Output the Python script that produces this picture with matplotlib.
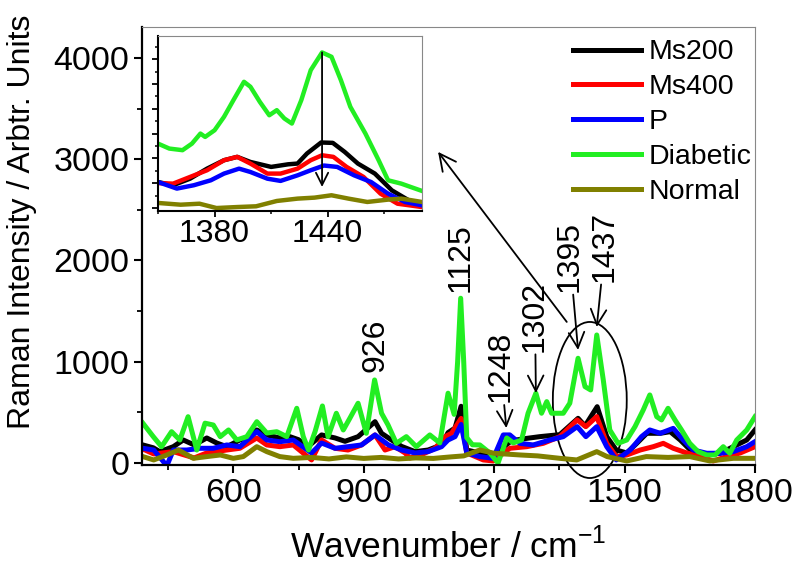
import numpy as np
import matplotlib
matplotlib.use("Agg")
import matplotlib.pyplot as plt
from matplotlib.patches import Ellipse
from matplotlib.ticker import MultipleLocator

plt.rcParams['font.family'] = ['Liberation Sans', 'DejaVu Sans']

# main spectra (wavenumber, intensity)
ms200_x = [392, 416, 431, 462, 485, 510, 539, 562, 585, 615, 630, 654, 677, 707, 730, 750, 772, 803, 834, 857,
           887, 926, 941, 964, 987, 1018, 1048, 1079, 1094, 1110, 1124, 1137, 1167, 1198, 1240, 1275, 1305, 1351,
           1393, 1409, 1437, 1459, 1481, 1505, 1528, 1551, 1582, 1605, 1628, 1658, 1689, 1720, 1750, 1781, 1800]
ms200_y = [178, 150, 112, 161, 227, 178, 247, 197, 161, 227, 247, 326, 277, 247, 260, 230, 161, 277, 247, 214,
           260, 408, 293, 227, 164, 112, 128, 178, 300, 345, 560, 128, 99, 79, 220, 243, 260, 280,
           441, 366, 556, 260, 128, 99, 194, 293, 293, 309, 227, 99, 79, 96, 161, 227, 326]

ms400_x = [392, 417, 462, 510, 539, 585, 615, 654, 677, 707, 738, 780, 803, 834, 864, 895, 926, 949, 972, 995,
           1006, 1033, 1064, 1087, 1102, 1124, 1137, 1175, 1198, 1236, 1275, 1313, 1351, 1391, 1411, 1436, 1459,
           1481, 1505, 1536, 1566, 1589, 1612, 1643, 1674, 1704, 1735, 1766, 1800]
ms400_y = [138, 89, 112, 50, 99, 128, 145, 247, 178, 161, 178, 30, 227, 145, 128, 178, 277, 128, 161, 99,
           49, 82, 145, 260, 293, 440, 99, 30, 20, 145, 161, 194, 260, 425, 359, 458, 194,
           63, 79, 128, 161, 194, 145, 99, 63, 20, 63, 99, 161]

p_x = [392, 417, 438, 447, 462, 493, 524, 554, 585, 615, 654, 677, 707, 738, 780, 803, 834, 864, 895, 926,
       957, 987, 1018, 1048, 1079, 1094, 1110, 1124, 1137, 1167, 1198, 1221, 1236, 1259, 1290, 1328, 1359,
       1391, 1411, 1436, 1459, 1481, 1513, 1539, 1558, 1582, 1612, 1635, 1658, 1689, 1720, 1750, 1781, 1800]
p_y = [145, 128, 20, -30, 128, 128, 145, 145, 178, 161, 310, 227, 210, 227, 99, 197, 145, 161, 178, 277,
       178, 128, 99, 112, 161, 227, 260, 380, 99, 63, 46, 277, 277, 194, 178, 227, 260,
       359, 260, 359, 161, 30, 128, 260, 326, 293, 342, 227, 128, 96, 96, 112, 161, 211]

diab_x = [392, 416, 435, 458, 477, 496, 516, 535, 554, 570, 589, 608, 631, 654, 677, 700, 723, 746, 761, 773,
          788, 805, 818, 837, 853, 868, 887, 906, 925, 941, 956, 975, 998, 1021, 1052, 1075, 1094, 1108, 1116,
          1123, 1130, 1137, 1150, 1167, 1190, 1209, 1229, 1244, 1263, 1278, 1296, 1309, 1321, 1332, 1359, 1374,
          1393, 1409, 1422, 1436, 1451, 1466, 1485, 1505, 1524, 1543, 1558, 1574, 1585, 1600, 1616, 1631, 1650,
          1669, 1689, 1708, 1727, 1742, 1758, 1781, 1800]
diab_y = [393, 260, 161, 309, 227, 457, 128, 393, 375, 260, 326, 227, 260, 408, 296, 309, 260, 540, 260, 128,
          309, 563, 260, 491, 326, 441, 590, 293, 820, 491, 375, 194, 260, 161, 277, 198, 689, 480, 1000,
          1627, 1000, 250, 180, 178, 99, 0, 247, 198, 227, 491, 689, 491, 606, 491, 491, 590,
          1034, 754, 721, 1264, 820, 326, 194, 227, 359, 524, 672, 457, 425, 540, 425, 326, 194,
          112, 79, 79, 161, 96, 227, 326, 457]

norm_x = [392, 417, 447, 474, 508, 539, 570, 600, 623, 654, 677, 707, 738, 780, 820, 860, 900, 940, 980, 1020,
          1060, 1100, 1130, 1167, 1200, 1260, 1300, 1351, 1390, 1436, 1460, 1505, 1550, 1600, 1650, 1696, 1750, 1800]
norm_y = [63, 30, 79, 128, 46, 63, 79, 46, 63, 161, 112, 63, 46, 55, 40, 60, 45, 55, 40, 50,
          45, 60, 70, 128, 96, 79, 70, 46, 30, 112, 63, 20, 63, 55, 63, 20, 46, 46]

# zoomed region 1350-1490 shown in the inset
ins_diab_x = [1350, 1356, 1363, 1368, 1372.5, 1375, 1380, 1385, 1390, 1395.6, 1399, 1404, 1409, 1413, 1417, 1421,
              1426, 1431, 1437, 1442, 1447, 1452, 1460, 1467, 1472, 1479, 1484, 1490]
ins_diab_y = [519, 479, 466, 519, 600, 573, 627, 735, 870, 1018, 978, 856, 748, 789, 722, 681,
              870, 1112, 1255, 1220, 1031, 816, 600, 385, 223, 196, 169, 137]
ins_ms200_x = [1350, 1358, 1367, 1376, 1385, 1392, 1399, 1410, 1419, 1424, 1429, 1436.5, 1442.7, 1449, 1456, 1465,
               1474, 1483, 1490]
ins_ms200_y = [209, 183, 236, 317, 385, 412, 371, 331, 352, 358, 439, 528, 525, 452, 358, 277, 142, 61, 34]
ins_ms400_x = [1350, 1358, 1367, 1376, 1385, 1392, 1399, 1408, 1415, 1424, 1431, 1437, 1443, 1450, 1459, 1468,
               1477, 1490]
ins_ms400_y = [200, 196, 250, 304, 385, 412, 358, 277, 277, 317, 385, 425, 412, 331, 250, 115, 34, 7]
ins_p_x = [1350, 1360, 1369, 1378, 1385, 1393, 1399, 1408, 1415, 1424, 1431, 1438, 1445, 1454, 1463, 1472, 1481, 1490]
ins_p_y = [209, 156, 183, 223, 277, 317, 290, 236, 218, 263, 304, 342, 331, 263, 209, 115, 48, 21]
ins_norm_x = [1350, 1362, 1372, 1381, 1392, 1402, 1413, 1424, 1433, 1442, 1451, 1461, 1472, 1479, 1490]
ins_norm_y = [40, 26, 34, -1, 7, 13, 56, 75, 83, 102, 75, 48, 67, 75, 48]

labels = ["Ms200", "Ms400", "P", "Diabetic", "Normal"]
colors = ["black", "#ff0000", "#0000ff", "#22ee22", "#808000"]

fig = plt.figure(figsize=(8, 5.77), dpi=100)
ax = fig.add_axes([0.1775, 0.1941, 0.76625, 0.7591])

series = [(ms200_x, ms200_y), (ms400_x, ms400_y), (p_x, p_y), (diab_x, diab_y), (norm_x, norm_y)]
for (xs, ys), lab, c in zip(series, labels, colors):
    ax.plot(xs, ys, color=c, lw=3.6, label=lab, solid_joinstyle='round')

ax.set_xlim(390, 1800)
ax.set_ylim(-20, 4305)
ax.xaxis.set_major_locator(MultipleLocator(300))
ax.xaxis.set_minor_locator(MultipleLocator(150))
ax.yaxis.set_major_locator(MultipleLocator(1000))
ax.yaxis.set_minor_locator(MultipleLocator(500))
ax.tick_params(which='major', direction='out', length=6, width=1.5, labelsize=24.5, pad=3)
ax.tick_params(which='minor', direction='out', length=3.5, width=1.3)
for s in ['left', 'bottom']:
    ax.spines[s].set_linewidth(1.6)
for s in ['top', 'right']:
    ax.spines[s].set_color('#888888')
    ax.spines[s].set_linewidth(0.8)
ax.set_xlabel("Wavenumber / cm$^{\\mathregular{-1}}$", fontsize=25.5, labelpad=14)
ax.set_ylabel("Raman Intensity / Arbtr. Units", fontsize=23)
ax.yaxis.set_label_coords(-0.171, 0.555)

leg = ax.legend(loc='upper left', bbox_to_anchor=(0.68, 1.004), frameon=False, fontsize=20.5,
                handlelength=2.4, handletextpad=0.25, labelspacing=0.31, borderpad=0)
for ln in leg.get_lines():
    ln.set_linewidth(3.6)

# peak labels
tk = dict(rotation=90, ha='center', va='bottom', fontsize=23)
ax.text(926, 899, "926", **tk)
ax.text(1124, 1690, "1125", **tk)
arw = dict(arrowstyle='->', color='black', lw=1.3, mutation_scale=28, shrinkA=0, shrinkB=0)
ax.annotate("1248", xy=(1228, 345), xytext=(1215, 600), arrowprops=arw, **tk)
ax.annotate("1302", xy=(1296, 690), xytext=(1294, 1100), arrowprops=arw, **tk)
ax.annotate("1395", xy=(1393, 1116), xytext=(1374, 1690), arrowprops=arw, **tk)
ax.annotate("1437", xy=(1436, 1343), xytext=(1455, 1790), arrowprops=arw, **tk)

ax.add_patch(Ellipse((1420, 622), 170, 1541, fill=False, ec='black', lw=1.3, clip_on=False))
ax.annotate("", xy=(1071, 3072), xytext=(1367, 1393),
            arrowprops=dict(arrowstyle='->', color='black', lw=1.3, mutation_scale=30, shrinkA=0, shrinkB=0))

# inset
axi = fig.add_axes([0.1975, 0.6343, 0.33, 0.3038])
ins = [(ins_ms200_x, ins_ms200_y), (ins_ms400_x, ins_ms400_y), (ins_p_x, ins_p_y),
       (ins_diab_x, ins_diab_y), (ins_norm_x, ins_norm_y)]
for (xs, ys), c in zip(ins, colors):
    axi.plot(xs, ys, color=c, lw=3.2)
axi.set_xlim(1350, 1490)
axi.set_ylim(-25, 1390)
axi.xaxis.set_major_locator(MultipleLocator(60))
axi.xaxis.set_minor_locator(MultipleLocator(30))
axi.set_xticks([1380, 1440])
axi.yaxis.set_major_locator(MultipleLocator(200))
axi.yaxis.set_minor_locator(MultipleLocator(100))
axi.set_yticklabels([])
axi.tick_params(which='major', direction='out', length=4, width=1.3, labelsize=23, pad=2)
axi.tick_params(which='minor', direction='out', length=2.5, width=1.1)
for s in ['left', 'bottom']:
    axi.spines[s].set_linewidth(1.5)
for s in ['top', 'right']:
    axi.spines[s].set_color('#888888')
    axi.spines[s].set_linewidth(0.8)
axi.annotate("", xy=(1437, 169), xytext=(1437, 1255),
             arrowprops=dict(arrowstyle='->', color='black', lw=1.3, mutation_scale=22, shrinkA=0, shrinkB=0))

fig.savefig("out.png", dpi=100)
